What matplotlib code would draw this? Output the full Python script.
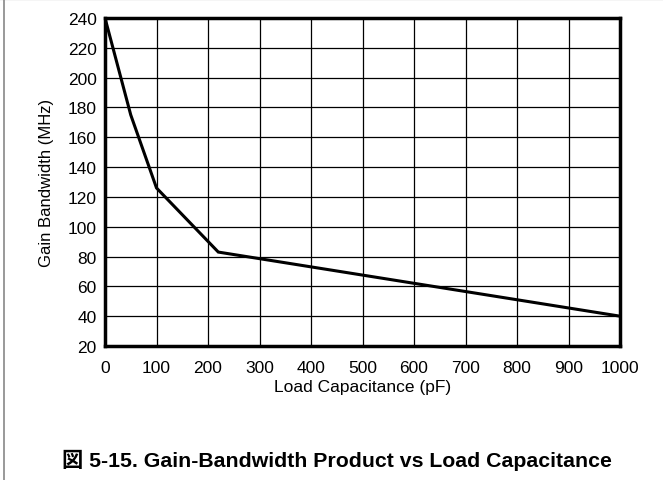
import matplotlib.pyplot as plt
from matplotlib.lines import Line2D

# data
cap_pf = [0, 50, 100, 220, 1000]
gbw_mhz = [240, 175, 126, 83, 40]
x_ticks = list(range(0, 1001, 100))
y_ticks = list(range(20, 241, 20))

plt.rcParams['font.family'] = ['Liberation Sans', 'Noto Sans CJK JP', 'DejaVu Sans']

fig = plt.figure(figsize=(6.63, 4.81), dpi=100)
ax = fig.add_axes([105/663, 1-347/481, (620-105)/663, (347-19)/481])

ax.plot(cap_pf, gbw_mhz, color='black', lw=2.2, solid_joinstyle='miter')

ax.set_xlim(0, 1000)
ax.set_ylim(20, 240)
ax.set_xticks(x_ticks)
ax.set_yticks(y_ticks)
ax.grid(True, color='black', lw=0.9)
ax.tick_params(length=0, labelsize=12.5)
ax.tick_params(axis='x', pad=10)
ax.tick_params(axis='y', pad=6)
for s in ax.spines.values():
    s.set_linewidth(2.5)

ax.set_xlabel('Load Capacitance (pF)', fontsize=12.5, labelpad=3)
ax.set_ylabel('Gain Bandwidth (MHz)', fontsize=12, labelpad=10)

fig.text(337/663, 1-460/481, '図 5-15. Gain-Bandwidth Product vs Load Capacitance',
         ha='center', va='center', fontsize=15.3, fontweight='bold')

# page border
fig.add_artist(Line2D([0, 1], [0.999, 0.999], color='#222222', lw=1.5))
fig.add_artist(Line2D([4/663, 4/663], [0, 1], color='#888888', lw=1.2))

fig.savefig('out.png', dpi=100)
